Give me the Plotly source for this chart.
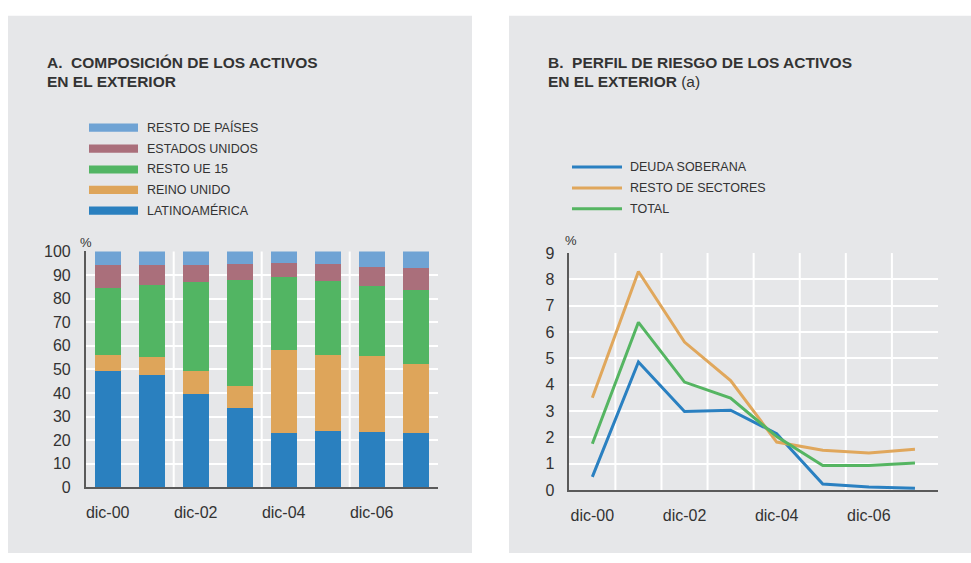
import plotly.graph_objects as go

# ---- data -------------------------------------------------------------
periods = ["dic-00", "dic-01", "dic-02", "dic-03", "dic-04", "dic-05", "dic-06", "dic-07"]
period_ticks = ["dic-00", "dic-02", "dic-04", "dic-06"]

# Panel A: composition of foreign assets (% of total), stacked bottom-up
latinoamerica = [49.0, 47.4, 39.2, 33.4, 22.7, 23.6, 23.2, 22.7]
reino_unido = [7.0, 7.8, 9.8, 9.5, 35.4, 32.4, 32.4, 29.2]
resto_ue15 = [28.4, 30.6, 37.8, 44.8, 30.9, 31.4, 29.6, 31.7]
estados_unidos = [9.6, 8.2, 7.2, 6.7, 5.8, 7.0, 8.2, 9.4]
resto_paises = [6.0, 6.0, 6.0, 5.6, 5.2, 5.6, 6.6, 7.0]

# Panel B: risk profile of foreign assets (%)
deuda_soberana = [0.50, 4.86, 2.98, 3.03, 2.14, 0.23, 0.11, 0.07]
resto_sectores = [3.50, 8.30, 5.62, 4.16, 1.82, 1.51, 1.41, 1.55]
total = [1.76, 6.37, 4.10, 3.49, 2.03, 0.93, 0.93, 1.03]

# ---- styling ----------------------------------------------------------
W, H = 971, 563
FONT = "Liberation Sans, Arial, Helvetica, sans-serif"
TXT = "#333333"
PANEL = "#e6e7e9"
AXIS = "#5a5a5a"

bar_series = [
    ("LATINOAMÉRICA", latinoamerica, "#2a80bf"),
    ("REINO UNIDO", reino_unido, "#dea55a"),
    ("RESTO UE 15", resto_ue15, "#52b563"),
    ("ESTADOS UNIDOS", estados_unidos, "#aa6f7b"),
    ("RESTO DE PAÍSES", resto_paises, "#6fa3d4"),
]
line_series = [
    ("DEUDA SOBERANA", deuda_soberana, "#2a80c1"),
    ("RESTO DE SECTORES", resto_sectores, "#e0a75c"),
    ("TOTAL", total, "#55b562"),
]


def px_x(v):
    return v / W


def px_y(v):
    return (H - v) / H


idx = list(range(len(periods)))
tick_idx = [periods.index(p) for p in period_ticks]

fig = go.Figure()

for name, vals, col in bar_series:
    fig.add_trace(go.Bar(
        x=idx, y=vals, name=name, marker=dict(color=col, line=dict(width=0)),
        width=0.59, xaxis="x", yaxis="y", showlegend=False,
    ))

for name, vals, col in line_series:
    fig.add_trace(go.Scatter(
        x=idx, y=vals, name=name, mode="lines", line=dict(color=col, width=3),
        xaxis="x2", yaxis="y2", showlegend=False,
    ))

tickfont = dict(family=FONT, size=16, color=TXT)
common_x = dict(
    tickmode="array", tickvals=tick_idx, ticktext=period_ticks,
    range=[-0.5, len(periods) - 0.5], showgrid=False, zeroline=False,
    showline=True, linecolor=AXIS, linewidth=1.5, ticks="",
    tickfont=tickfont, ticklabelstandoff=10, fixedrange=True,
)
common_y = dict(
    showgrid=True, gridcolor="white", gridwidth=2, zeroline=False,
    showline=True, linecolor=AXIS, linewidth=1.5, ticks="",
    tickfont=tickfont, ticklabelstandoff=10, fixedrange=True,
)

fig.update_layout(
    width=W, height=H,
    margin=dict(l=0, r=0, t=0, b=0),
    paper_bgcolor="white",
    plot_bgcolor="rgba(0,0,0,0)",
    barmode="stack",
    bargap=0,
    showlegend=False,
    font=dict(family=FONT, color=TXT),
    xaxis=dict(common_x, domain=[px_x(85.7), px_x(437.7)], anchor="y"),
    yaxis=dict(common_y, domain=[px_y(494.3), px_y(251)], range=[0, 100],
               tickvals=list(range(0, 101, 10)), anchor="x"),
    xaxis2=dict(common_x, domain=[px_x(569.3), px_x(938)], anchor="y2"),
    yaxis2=dict(common_y, domain=[px_y(497), px_y(252.7)], range=[0, 9],
                tickvals=list(range(0, 10)), anchor="x2"),
)

shapes = []
# grey panel backgrounds
for x0, x1 in [(8, 472), (509, 971)]:
    shapes.append(dict(type="rect", xref="paper", yref="paper",
                       x0=px_x(x0), x1=px_x(x1), y0=px_y(562), y1=px_y(8),
                       fillcolor=PANEL, line=dict(width=0), layer="below"))

# vertical white gridlines between periods
for b in [1.5, 3.5, 5.5]:
    shapes.append(dict(type="line", xref="x", yref="y domain", x0=b, x1=b, y0=0, y1=1,
                       line=dict(color="white", width=2), layer="below"))
for b in [i + 0.5 for i in range(len(periods) - 1)]:
    shapes.append(dict(type="line", xref="x2", yref="y2 domain", x0=b, x1=b, y0=0, y1=1,
                       line=dict(color="white", width=2), layer="below"))

annotations = []

# titles
def title(x, y, text):
    annotations.append(dict(xref="paper", yref="paper", x=px_x(x), y=px_y(y),
                            xanchor="left", yanchor="middle", showarrow=False,
                            text=text, font=dict(family=FONT, size=15.5, color=TXT)))


title(45, 55.7, "<b>A.  COMPOSICIÓN DE LOS ACTIVOS</b>")
title(45, 76, "<b>EN EL EXTERIOR</b>")
title(546, 55.7, "<b>B.  PERFIL DE RIESGO DE LOS ACTIVOS</b>")
title(546, 76, "<b>EN EL EXTERIOR</b> (a)")

# unit labels
for x, y in [(86, 241.5), (571, 240)]:
    annotations.append(dict(xref="paper", yref="paper", x=px_x(x), y=px_y(y),
                            xanchor="center", yanchor="middle", showarrow=False,
                            text="%", font=dict(family=FONT, size=13, color=TXT)))

# legend A (top entry = top of stack)
leg_a_rows = [123.3, 145.0, 166.5, 187.5, 209.0]
for (name, _, col), yc in zip(reversed(bar_series), leg_a_rows):
    shapes.append(dict(type="rect", xref="paper", yref="paper",
                       x0=px_x(89), x1=px_x(138), y0=px_y(yc + 4.2), y1=px_y(yc - 4.2),
                       fillcolor=col, line=dict(width=0)))
    annotations.append(dict(xref="paper", yref="paper", x=px_x(144.5), y=px_y(yc),
                            xanchor="left", yanchor="middle", showarrow=False,
                            text=name, font=dict(family=FONT, size=12.5, color=TXT)))

# legend B
leg_b_rows = [164.0, 185.5, 207.0]
for (name, _, col), yc in zip(line_series, leg_b_rows):
    shapes.append(dict(type="line", xref="paper", yref="paper",
                       x0=px_x(572), x1=px_x(622), y0=px_y(yc), y1=px_y(yc),
                       line=dict(color=col, width=3)))
    annotations.append(dict(xref="paper", yref="paper", x=px_x(627.5), y=px_y(yc),
                            xanchor="left", yanchor="middle", showarrow=False,
                            text=name, font=dict(family=FONT, size=12.5, color=TXT)))

fig.update_layout(shapes=shapes, annotations=annotations)

fig.write_html("out.html")
